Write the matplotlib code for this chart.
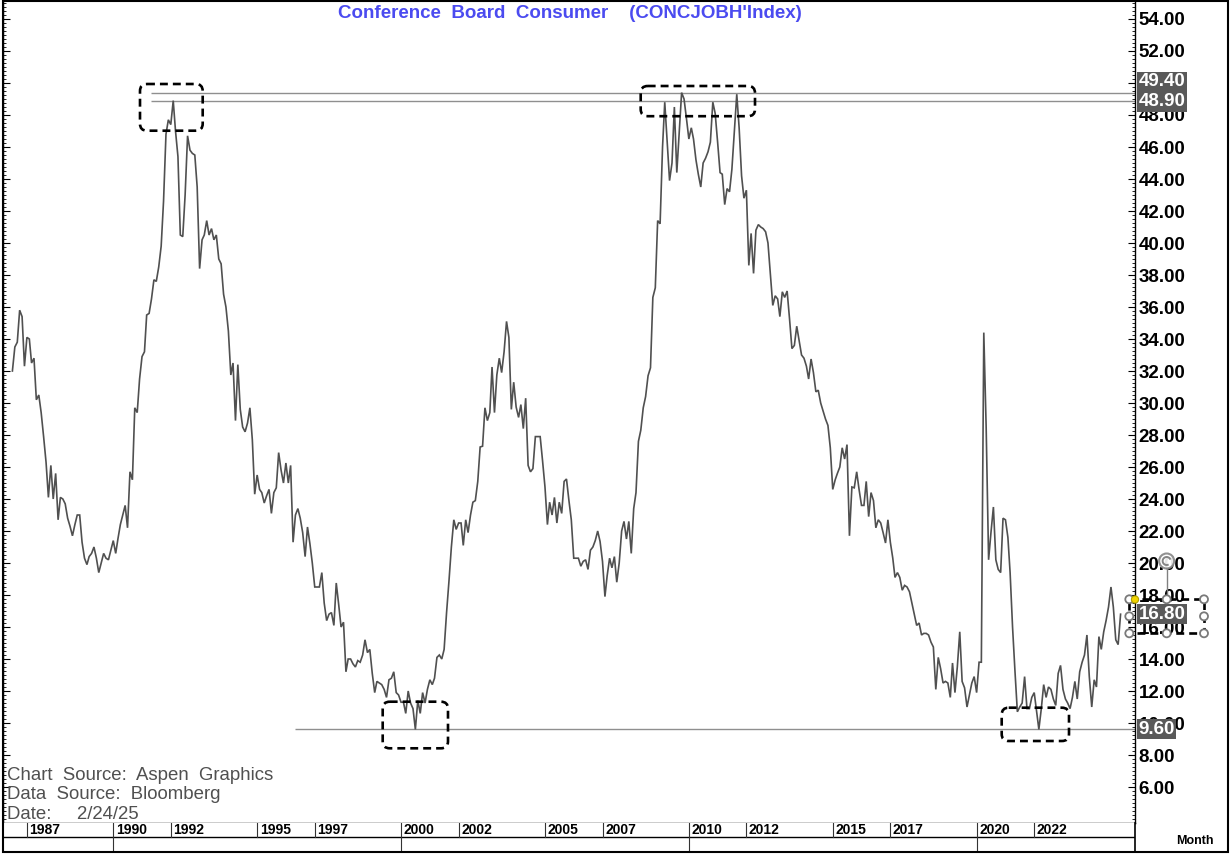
import matplotlib
matplotlib.use('Agg')
import matplotlib.pyplot as plt
import matplotlib.dates as mdates
import matplotlib.transforms as mtransforms
from matplotlib.patches import FancyBboxPatch, Circle, Rectangle, Arc
from matplotlib.ticker import FixedLocator, MultipleLocator, FormatStrFormatter
import numpy as np
import pandas as pd
from datetime import datetime

plt.rcParams['font.family'] = ['Liberation Sans', 'DejaVu Sans']

# ---------------- data (monthly, Jul 1986 .. Jan 2025) ----------------
start_month = '1986-07-01'
v1986 = [32.0, 33.5, 33.8, 35.8, 35.4, 32.3]
v1987 = [34.1, 34.0, 32.5, 32.8, 30.2, 30.5, 29.4, 27.9, 26.3, 24.1, 26.1, 24.0]
v1988 = [25.6, 22.7, 24.1, 24.0, 23.7, 22.8, 22.3, 21.7, 22.4, 23.0, 23.0, 21.3]
v1989 = [20.3, 19.9, 20.4, 20.6, 21.0, 20.3, 19.4, 20.0, 20.6, 20.3, 20.2, 20.8]
v1990 = [21.4, 20.6, 21.5, 22.4, 23.0, 23.6, 22.2, 25.7, 25.2, 29.7, 29.4, 31.5]
v1991 = [32.9, 33.2, 35.5, 35.6, 36.5, 37.7, 37.6, 38.5, 39.8, 42.6, 46.8, 47.7]
v1992 = [47.4, 48.9, 47.0, 45.4, 40.5, 40.4, 43.0, 46.7, 45.8, 45.6, 45.5, 43.5]
v1993 = [38.4, 40.2, 40.5, 41.4, 40.5, 40.9, 40.2, 40.5, 39.0, 38.7, 36.8, 36.0]
v1994 = [34.5, 31.75, 32.5, 28.9, 32.4, 29.6, 28.5, 28.2, 28.75, 29.7, 27.7, 24.3]
v1995 = [25.5, 24.6, 24.4, 23.75, 24.2, 24.6, 23.1, 24.4, 24.7, 26.9, 25.8, 25.0]
v1996 = [26.25, 25.0, 26.1, 21.3, 23.0, 23.4, 22.8, 21.9, 20.4, 22.25, 21.2, 20.0]
v1997 = [18.5, 18.5, 18.5, 19.4, 17.5, 16.4, 16.8, 16.9, 16.1, 18.75, 17.4, 16.0]
v1998 = [16.3, 13.2, 14.0, 14.0, 13.7, 13.5, 13.9, 13.8, 14.25, 15.2, 14.4, 14.6]
v1999 = [13.1, 11.9, 12.6, 12.5, 12.4, 12.1, 11.6, 12.7, 12.8, 13.2, 11.9, 11.75]
v2000 = [11.3, 11.3, 10.6, 12.0, 11.25, 10.9, 9.6, 11.4, 10.6, 11.9, 11.25, 12.1]
v2001 = [12.7, 12.4, 12.8, 14.1, 14.25, 14.0, 14.6, 16.9, 18.9, 21.0, 22.7, 22.1]
v2002 = [22.5, 22.5, 21.1, 22.7, 21.9, 23.0, 23.8, 23.9, 25.1, 27.25, 27.3, 29.7]
v2003 = [28.9, 29.4, 32.25, 29.4, 31.75, 32.8, 31.9, 33.2, 35.1, 34.1, 29.6, 31.3]
v2004 = [29.75, 29.1, 29.9, 28.4, 30.3, 26.1, 25.7, 25.9, 27.9, 27.9, 27.9, 26.4]
v2005 = [24.75, 22.4, 23.8, 23.0, 24.1, 22.5, 23.8, 23.1, 25.1, 25.25, 23.9, 22.7]
v2006 = [20.3, 20.3, 20.3, 19.8, 20.1, 20.2, 19.6, 20.8, 21.0, 21.4, 22.0, 21.35]
v2007 = [20.1, 17.9, 19.2, 20.3, 19.7, 20.4, 18.8, 20.0, 22.0, 22.6, 21.5, 22.6]
v2008 = [20.6, 23.4, 24.4, 27.6, 28.3, 29.7, 30.4, 31.7, 32.2, 36.6, 37.2, 41.4]
v2009 = [41.2, 46.0, 48.8, 46.3, 43.9, 45.0, 48.5, 44.4, 47.0, 49.4, 49.0, 47.8]
v2010 = [46.5, 47.2, 46.5, 45.2, 44.3, 43.5, 45.0, 45.3, 45.7, 46.3, 48.8, 48.1]
v2011 = [46.3, 44.4, 44.3, 42.4, 43.4, 43.2, 44.6, 47.0, 49.3, 47.2, 44.2, 42.8]
v2012 = [43.3, 38.6, 40.6, 38.1, 40.8, 41.15, 41.0, 40.9, 40.7, 40.0, 38.0, 36.1]
v2013 = [36.7, 36.5, 35.4, 36.95, 36.6, 37.0, 35.3, 33.4, 33.6, 34.8, 33.9, 33.0]
v2014 = [32.8, 32.3, 31.5, 32.75, 31.9, 30.7, 30.8, 30.0, 29.5, 29.0, 28.6, 27.2]
v2015 = [24.6, 25.2, 25.6, 26.0, 27.2, 26.5, 27.4, 21.7, 24.75, 24.7, 25.7, 24.6]
v2016 = [23.6, 23.6, 25.1, 22.9, 24.4, 23.9, 22.2, 22.7, 22.5, 21.9, 21.25, 22.7]
v2017 = [21.3, 20.3, 19.1, 19.4, 19.1, 18.3, 18.6, 18.5, 18.2, 17.5, 16.8, 16.1]
v2018 = [16.25, 15.5, 15.6, 15.6, 15.5, 15.05, 14.75, 12.1, 14.1, 13.4, 12.5, 12.6]
v2019 = [12.5, 11.6, 13.75, 11.9, 13.5, 15.7, 12.6, 12.2, 11.0, 11.75, 12.5, 12.9]
v2020 = [11.9, 13.8, 13.8, 34.4, 28.5, 20.2, 21.9, 23.5, 20.2, 19.6, 19.4, 22.8]
v2021 = [22.7, 21.6, 19.4, 16.0, 13.3, 10.7, 11.0, 11.25, 12.9, 10.9, 10.9, 11.6]
v2022 = [11.9, 10.7, 9.6, 10.9, 12.4, 11.6, 12.25, 12.1, 11.5, 11.1, 13.1, 13.6]
v2023 = [12.1, 11.5, 11.25, 10.9, 11.6, 12.6, 11.5, 13.2, 13.8, 14.25, 15.5, 12.9]
v2024 = [11.0, 12.7, 12.25, 15.4, 14.6, 15.7, 16.4, 17.25, 18.5, 17.25, 15.2, 14.9]
v2025 = [16.8]

y_ticks = list(np.arange(6, 55, 2))
year_labels = ['1987', '1990', '1992', '1995', '1997', '2000', '2002', '2005',
               '2007', '2010', '2012', '2015', '2017', '2020', '2022']
decade_marks = ['1990', '2000', '2010', '2020']
level_lines = [49.4, 48.9, 9.6]
level_starts = ['1991-05-01', '1991-05-01', '1996-05-01']
last_value = 16.8

title = "Conference  Board  Consumer    (CONCJOBH'Index)"
footer = ['Chart  Source:  Aspen  Graphics', 'Data  Source:  Bloomberg', 'Date:     2/24/25']

values = np.array(v1986 + v1987 + v1988 + v1989 + v1990 + v1991 + v1992 + v1993 +
                  v1994 + v1995 + v1996 + v1997 + v1998 + v1999 + v2000 + v2001 +
                  v2002 + v2003 + v2004 + v2005 + v2006 + v2007 + v2008 + v2009 +
                  v2010 + v2011 + v2012 + v2013 + v2014 + v2015 + v2016 + v2017 +
                  v2018 + v2019 + v2020 + v2021 + v2022 + v2023 + v2024 + v2025)
dates = pd.date_range(start_month, periods=len(values), freq='MS')

# ---------------- layout ----------------
W, H = 1231, 855
fig = plt.figure(figsize=(W / 100, H / 100), dpi=100)
fig.patch.set_facecolor('white')

def fx(px):
    return px / W

def fy(py):
    return 1 - py / H

L, R, T, B = 3, 1135, 0.5, 823
ax = fig.add_axes([fx(L), fy(B), fx(R) - fx(L), fy(T) - fy(B)])

base = mdates.date2num(datetime(1987, 1, 1))
px_per_day = 28.78 / 365.25
xl = base + (L - 26.9) / px_per_day
xr = base + (R - 26.9) / px_per_day
ax.set_xlim(xl, xr)
ax.set_ylim(54 - (B - 19) / 16, 54 + (19 - T) / 16)

ax.plot(dates, values, color='#505050', lw=1.2, solid_joinstyle='miter', zorder=3)

for lv, ls in zip(level_lines, level_starts):
    ax.hlines(lv, mdates.date2num(pd.Timestamp(ls)), xr, color='#8f8f8f', lw=1.0, zorder=2)

for s in ax.spines.values():
    s.set_color('black')
    s.set_linewidth(1.0)

ax.set_xticks([])
ax.yaxis.set_major_locator(FixedLocator(y_ticks))
ax.yaxis.set_minor_locator(MultipleLocator(0.25))
ax.yaxis.set_major_formatter(FormatStrFormatter('%.2f'))
ax.tick_params(axis='y', which='both', direction='in', left=True, right=True,
               labelleft=False, labelright=True)
ax.tick_params(axis='y', which='major', length=5, width=0.8, pad=2.5, labelsize=13.5)
ax.tick_params(axis='y', which='minor', length=2.5, width=0.6)
for lbl in ax.get_yticklabels():
    lbl.set_fontweight('bold')

# value tags on the right axis
trans = mtransforms.blended_transform_factory(ax.transAxes, ax.transData)
xt = (1138.5 - L) / (R - L)
tag_kw = dict(transform=trans, ha='left', va='center', color='white', fontsize=13.5,
              fontweight='bold', clip_on=False, zorder=10,
              bbox=dict(boxstyle='square,pad=0.08', fc='#595959', ec='none'))
ax.text(xt, level_lines[0] + 0.68, '%.2f' % level_lines[0], **tag_kw)
ax.text(xt, level_lines[1] - 0.07, '%.2f' % level_lines[1], **tag_kw)
ax.text(xt, level_lines[2], '%.2f' % level_lines[2], **tag_kw)
ax.text(xt, last_value, '%.2f' % last_value, **tag_kw)

# ---------------- date axis ----------------
ax2 = fig.add_axes([fx(L), fy(852), fx(R) - fx(L), fy(B) - fy(852)])
ax2.set_xlim(xl, xr)
ax2.set_ylim(0, 1)
ax2.set_xticks([])
ax2.set_yticks([])
ax2.spines['top'].set_visible(False)
for k in ['left', 'right', 'bottom']:
    ax2.spines[k].set_linewidth(1.2)
mid = (852 - 837) / (852 - B)
ax2.axhline(mid, color='black', lw=1.0)
lab_tr = mtransforms.offset_copy(ax2.transData, fig=fig, x=2.5, y=0, units='dots')
for yl in year_labels:
    d = mdates.date2num(pd.Timestamp(yl + '-01-01'))
    ax2.axvline(d, ymin=mid, ymax=1, color='#333333', lw=0.8)
    ax2.text(d, 0.76, yl, transform=lab_tr, ha='left', va='center',
             fontsize=10, fontweight='bold')
for yl in decade_marks:
    d = mdates.date2num(pd.Timestamp(yl + '-01-01'))
    ax2.axvline(d, ymin=0, ymax=mid, color='#333333', lw=0.8)

# ---------------- overlay (annotations, frame, texts) ----------------
ov = fig.add_axes([0, 0, 1, 1])
ov.set_xlim(0, W)
ov.set_ylim(H, 0)
ov.axis('off')

ov.add_patch(Rectangle((L, 0.7), 1228 - L, 851.3, fill=False, ec='black', lw=1.5))

ov.text(338, 13, title, ha='left', va='center', fontsize=13.5, fontweight='bold',
        color='#4B4BF0')
for i, t in enumerate(footer):
    ov.text(7, 775 + i * 19.5, t, ha='left', va='center', fontsize=13.4, color='#505050')
ov.text(1195, 841, 'Month', ha='center', va='center', fontsize=9, fontweight='bold')

dash = (0, (3.0, 1.9))
for (x0, y0, x1, y1) in [(140, 84, 202.7, 130.7), (640.7, 86, 755, 116.2),
                         (382.7, 701.7, 448, 748.3), (1001.7, 707.7, 1069, 741)]:
    ov.add_patch(FancyBboxPatch((x0, y0), x1 - x0, y1 - y0,
                                boxstyle='round,pad=0,rounding_size=7',
                                fill=False, ec='black', lw=1.9, ls=dash, zorder=5))

# selected shape with handles (right side)
sx0, sy0, sx1, sy1 = 1129.3, 599.3, 1204, 633.3
ov.add_patch(Rectangle((sx0, sy0), sx1 - sx0, sy1 - sy0, fill=False, ec='black',
                       lw=1.9, ls=dash, zorder=5))
sxm, sym = (sx0 + sx1) / 2, (sy0 + sy1) / 2
ov.plot([sxm, sxm], [568, sy0], color='#808080', lw=1.0, zorder=6)
ov.add_patch(Circle((sxm, 561), 7.5, fc='white', ec='#858585', lw=1.5, zorder=7, alpha=0.9))
ov.add_patch(Arc((sxm, 561), 8, 8, theta1=60, theta2=340, ec='#858585', lw=1.4, zorder=8))
for (hx, hy) in [(sx0, sy0), (sxm, sy0), (sx1, sy0), (sx0, sym), (sx1, sym),
                 (sx0, sy1), (sxm, sy1), (sx1, sy1)]:
    ov.add_patch(Circle((hx, hy), 4.0, fc='white', ec='#7a7a7a', lw=1.3, zorder=7))
ov.add_patch(Circle((1135, 599.5), 3.6, fc='#f2d400', ec='#b0a000', lw=0.8, zorder=8))

fig.savefig('out.png', dpi=100, facecolor='white')
